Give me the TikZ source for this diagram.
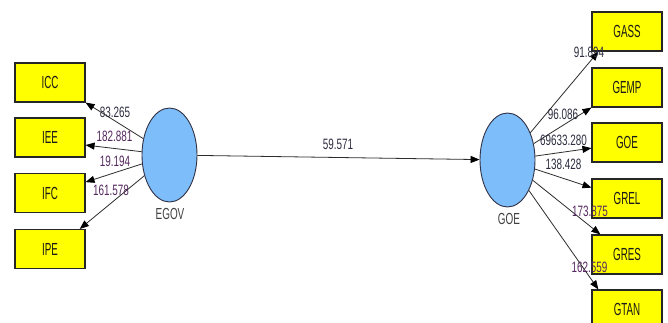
\documentclass[tikz,border=0pt]{standalone}
\usepackage{fontspec}
\usepackage{graphicx}
\setmainfont{Liberation Sans}
\usetikzlibrary{shapes.geometric,arrows.meta}
\definecolor{boxyel}{RGB}{255,255,0}
\definecolor{latblue}{RGB}{125,190,250}
\definecolor{latline}{RGB}{50,50,70}
\definecolor{arrline}{RGB}{45,45,45}
\definecolor{numdark}{RGB}{45,45,65}
\definecolor{numpurp}{RGB}{85,40,95}
\newcommand\boxtxt[1]{\scalebox{0.56}[1]{\fontsize{17.5}{17.5}\selectfont #1}}
\newcommand\numtxt[1]{\scalebox{0.66}[1]{\fontsize{15}{15}\selectfont #1}}
\newcommand\lattxt[1]{\scalebox{0.62}[1]{\fontsize{16}{16}\selectfont #1}}
\tikzset{
  ybox/.style={draw=black!85, line width=1.1pt, fill=boxyel, minimum width=70pt, minimum height=39pt, inner sep=0pt, text=black!90},
  lat/.style={ellipse, draw=latline, line width=0.9pt, fill=latblue, minimum width=55pt, minimum height=94pt, inner sep=0pt},
  arr/.style={draw=arrline, line width=0.8pt, -{Triangle[length=9pt,width=7pt,color=black]}},
  num/.style={inner sep=0pt, text=numdark},
  nump/.style={inner sep=0pt, text=numpurp},
  latlab/.style={inner sep=0pt, text=black!75}
}
\begin{document}
\begin{tikzpicture}
\useasboundingbox (0pt,0pt) rectangle (668pt,-323pt);
\clip (0pt,0pt) rectangle (668pt,-323pt);
\fill[white] (0pt,0pt) rectangle (668pt,-323pt);
\begin{scope}[x=1pt,y=-1pt]
% left indicator boxes
\node[ybox] (icc) at (50,82.5) {\boxtxt{ICC}};
\node[ybox] (iee) at (50,137.5) {\boxtxt{IEE}};
\node[ybox] (ifc) at (50,193) {\boxtxt{IFC}};
\node[ybox] (ipe) at (50,249) {\boxtxt{IPE}};
% right indicator boxes
\node[ybox] (gass) at (627,31.5) {\boxtxt{GASS}};
\node[ybox] (gemp) at (627,87.5) {\boxtxt{GEMP}};
\node[ybox] (goebox) at (627,142.5) {\boxtxt{GOE}};
\node[ybox] (grel) at (627,198.5) {\boxtxt{GREL}};
\node[ybox] (gres) at (627,254.5) {\boxtxt{GRES}};
\node[ybox] (gtan) at (627,309.5) {\boxtxt{GTAN}};
% latent variables
\node[lat] (egov) at (169.5,155) {};
\node[lat] (goe) at (507.5,160) {};
\node[latlab] (egovlab) at (170,214) {\lattxt{EGOV}};
\node[latlab] (goelab) at (509,219) {\lattxt{GOE}};
% arrows
\draw[arr] (egov) -- (icc.south east);
\draw[arr] (egov) -- (iee.-12);
\draw[arr] (egov) -- (ifc.17);
\draw[arr] (egov) -- (ipe.34);
\draw[arr] (egov) -- (goe);
\draw[arr] (goe) -- (gass.215);
\draw[arr] (goe) -- (gemp.south west);
\draw[arr] (goe) -- (goebox.189);
\draw[arr] (goe) -- (grel.163);
\draw[arr] (goe) -- (gres.143);
\draw[arr] (goe) -- (gtan.145);
% labels
\node[num] (l1) at (115,112) {\numtxt{83.265}};
\node[nump] (l2) at (114.5,136) {\numtxt{182.881}};
\node[nump] (l3) at (115,161) {\numtxt{19.194}};
\node[nump] (l4) at (111,190) {\numtxt{161.578}};
\node[num] (l5) at (338,144) {\numtxt{59.571}};
\node[num] (l6) at (589,52) {\numtxt{91.894}};
\node[num] (l7) at (563,114) {\numtxt{96.086}};
\node[num] (l8) at (563.5,140.5) {\numtxt{69633.280}};
\node[num] (l9) at (563.5,164) {\numtxt{138.428}};
\node[nump] (l10) at (590,211) {\numtxt{173.875}};
\node[nump] (l11) at (589.5,267) {\numtxt{162.559}};
\end{scope}
\end{tikzpicture}
\end{document}
